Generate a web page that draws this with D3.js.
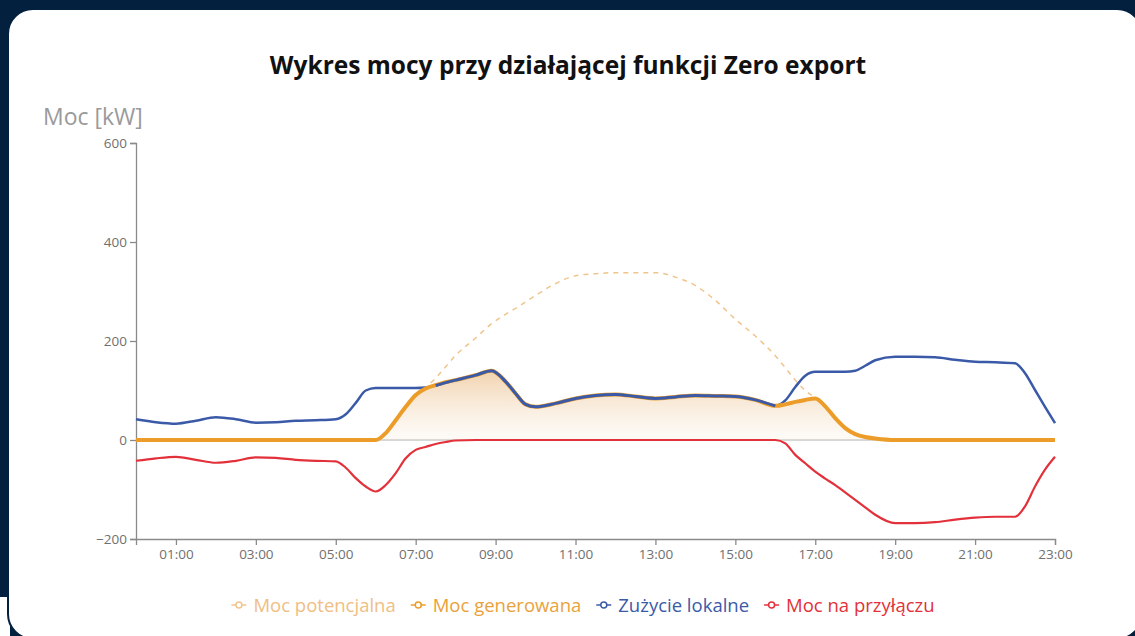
<!DOCTYPE html>
<html><head><meta charset="utf-8">
<script src="https://cdn.jsdelivr.net/npm/d3@7"></script>
<style>
body{margin:0;background:#03203f;overflow:hidden}
svg{display:block}
text{font-family:"Open Sans","Noto Sans",sans-serif}
</style></head>
<body>
<svg id="chart" width="1135" height="636"></svg>
<script>
// ---- data ----
const chartTitle = "Wykres mocy przy działającej funkcji Zero export";
const yAxisTitle = "Moc [kW]";
const seriesNames = ["Moc potencjalna", "Moc generowana", "Zużycie lokalne", "Moc na przyłączu"];
const hours = [0,0.5,1,1.5,2,2.5,3,3.5,4,4.5,5,
  5.25,5.5,5.75,6,6.25,6.5,6.75,7,7.25,7.5,7.75,8,
  8.5,8.9,9.25,9.5,9.75,10,
  10.5,11,11.5,12,12.5,13,13.5,14,14.5,15,15.5,16,
  16.25,16.5,16.75,17,17.25,17.5,17.75,18,18.25,18.5,
  19,19.5,20,20.5,21,21.5,22,
  22.25,22.5,22.75,23];
const potencjalna = [0,0,0,0,0,0,0,0,0,0,0,
  0,0,0,0,14,40,67,91,106,125,148,171,
  206,235,254,266,279,292,
  316,332,336,338,338,338,329,312,282,244,210,170,
  146,121,100,85,68,44,24,12,6,3,
  0,0,0,0,0,0,0,
  0,0,0,0];
const generowana = [0,0,0,0,0,0,0,0,0,0,0,
  0,0,0,0,14,40,67,91,104,111,117,121,
  131,140,118,94,72,67,
  74,84,90,92,88,84,87,90,89,88,81,69,
  72,77,81,84,68,44,24,12,6,3,
  0,0,0,0,0,0,0,
  0,0,0,0];
const zuzycie = [42,36,33,39,46,42,35,36,39,40,42,
  52,75,100,105,105,105,105,105,106,110,116,121,
  131,140,118,94,72,67,
  74,84,90,92,88,84,87,90,89,88,81,69,
  80,107,130,138,138,138,138,140,150,161,
  168,168,167,162,158,157,155,
  135,101,67,34];
const przylacze = [-42,-37,-34,-40,-46,-42,-35,-36,-40,-42,-43,
  -56,-77,-94,-104,-91,-67,-37,-20,-14,-8,-4,-1,
  0,0,0,0,0,0,
  0,0,0,0,0,0,0,0,0,0,0,0,
  -7,-30,-47,-64,-78,-91,-106,-121,-136,-151,
  -168,-168,-166,-161,-157,-155,-155,
  -134,-94,-60,-34];
const xTickValues = [1,3,5,7,9,11,13,15,17,19,21,23];
const xTickLabels = ["01:00","03:00","05:00","07:00","09:00","11:00","13:00","15:00","17:00","19:00","21:00","23:00"];
const yTickValues = [-200,0,200,400,600];

// ---- drawing ----
const svg = d3.select("#chart");
const colors = {pot:"#f0c48c", gen:"#ec9c28", use:"#3a5aa8", grid:"#e2313a"};

// card
svg.append("rect").attr("x",0).attr("y",597).attr("width",10).attr("height",40).attr("fill","#fff");
svg.append("rect").attr("x",8).attr("y",9).attr("width",1134).attr("height",630)
  .attr("rx",25).attr("fill","#fff").attr("stroke","#03203f").attr("stroke-width",2);

const x = d3.scaleLinear().domain([0,23]).range([136,1055]);
const y = d3.scaleLinear().domain([-200,600]).range([539,143]);

// title
svg.append("text").attr("x",568).attr("y",74).attr("text-anchor","middle")
  .attr("font-size",24.5).attr("font-weight",700).attr("fill","#111").text(chartTitle);
svg.append("text").attr("x",43).attr("y",125)
  .attr("font-size",23).attr("fill","#9a9a9a").text(yAxisTitle);

// gradient
const defs = svg.append("defs");
const grad = defs.append("linearGradient").attr("id","genGrad")
  .attr("gradientUnits","userSpaceOnUse").attr("x1",0).attr("x2",0)
  .attr("y1",y(140)).attr("y2",y(0));
grad.append("stop").attr("offset",0).attr("stop-color","#e6ad6a").attr("stop-opacity",0.55);
grad.append("stop").attr("offset",1).attr("stop-color","#f3dcc0").attr("stop-opacity",0.12);

// zero line
svg.append("line").attr("x1",x(0)).attr("x2",x(23)).attr("y1",y(0)).attr("y2",y(0))
  .attr("stroke","#b0b0b0").attr("stroke-width",1);

// axes
const yAxis = svg.append("g").attr("transform",`translate(${x(0)},0)`)
  .call(d3.axisLeft(y).tickValues(yTickValues).tickSize(6).tickPadding(3));
const xAxis = svg.append("g").attr("transform",`translate(0,${y(-200)})`)
  .call(d3.axisBottom(x).tickValues(xTickValues).tickSize(6).tickPadding(4)
    .tickFormat((d,i)=>xTickLabels[i]));
[xAxis,yAxis].forEach(g=>{
  g.selectAll("path,line").attr("stroke","#8a8a8a").attr("stroke-width",1.3);
  g.selectAll("text").attr("fill","#707070").attr("font-size",13.5)
   .attr("font-family","'Open Sans','Noto Sans',sans-serif");
});

const curve = d3.curveMonotoneX;
const pts = arr => hours.map((h,i)=>[h,arr[i]]);

// area under generated
svg.append("path").datum(pts(generowana))
  .attr("d", d3.area().x(d=>x(d[0])).y0(y(0)).y1(d=>y(d[1])).curve(curve))
  .attr("fill","url(#genGrad)");

const line = d3.line().x(d=>x(d[0])).y(d=>y(d[1])).curve(curve);

svg.append("path").datum(pts(potencjalna)).attr("d",line)
  .attr("fill","none").attr("stroke",colors.pot).attr("stroke-width",1.5)
  .attr("stroke-dasharray","5,5");
svg.append("path").datum(pts(przylacze)).attr("d",line)
  .attr("fill","none").attr("stroke",colors.grid).attr("stroke-width",2.2);
svg.append("path").datum(pts(zuzycie)).attr("d",line)
  .attr("fill","none").attr("stroke",colors.use).attr("stroke-width",2.5);
svg.append("path").datum(pts(generowana)).attr("d",line)
  .attr("fill","none").attr("stroke",colors.gen).attr("stroke-width",4);
// blue on top where it overlaps generated
svg.append("path").datum(pts(zuzycie).filter(d=>d[0]>=7.5 && d[0]<=16))
  .attr("d",line).attr("fill","none").attr("stroke",colors.use).attr("stroke-width",3);

// legend
const legColors = [colors.pot, colors.gen, colors.use, colors.grid];
const legText = ["#efbe83","#e8a23c","#3a5aa8","#e2313a"];
const leg = svg.append("g");
let cx = 0;
seriesNames.forEach((name,i)=>{
  const g = leg.append("g").attr("transform",`translate(${cx},0)`);
  g.append("line").attr("x1",0).attr("x2",15).attr("y1",0).attr("y2",0)
    .attr("stroke",legColors[i]).attr("stroke-width",1.5);
  g.append("circle").attr("cx",7.5).attr("cy",0).attr("r",3)
    .attr("fill","#fff").attr("stroke",legColors[i]).attr("stroke-width",1.5);
  const t = g.append("text").attr("x",22).attr("y",6.5).attr("font-size",18.5)
    .attr("fill",legText[i]).text(name);
  cx += 22 + t.node().getComputedTextLength() + 15;
});
const legW = cx - 15;
leg.attr("transform",`translate(${583 - legW/2},605)`);
</script>
</body></html>
